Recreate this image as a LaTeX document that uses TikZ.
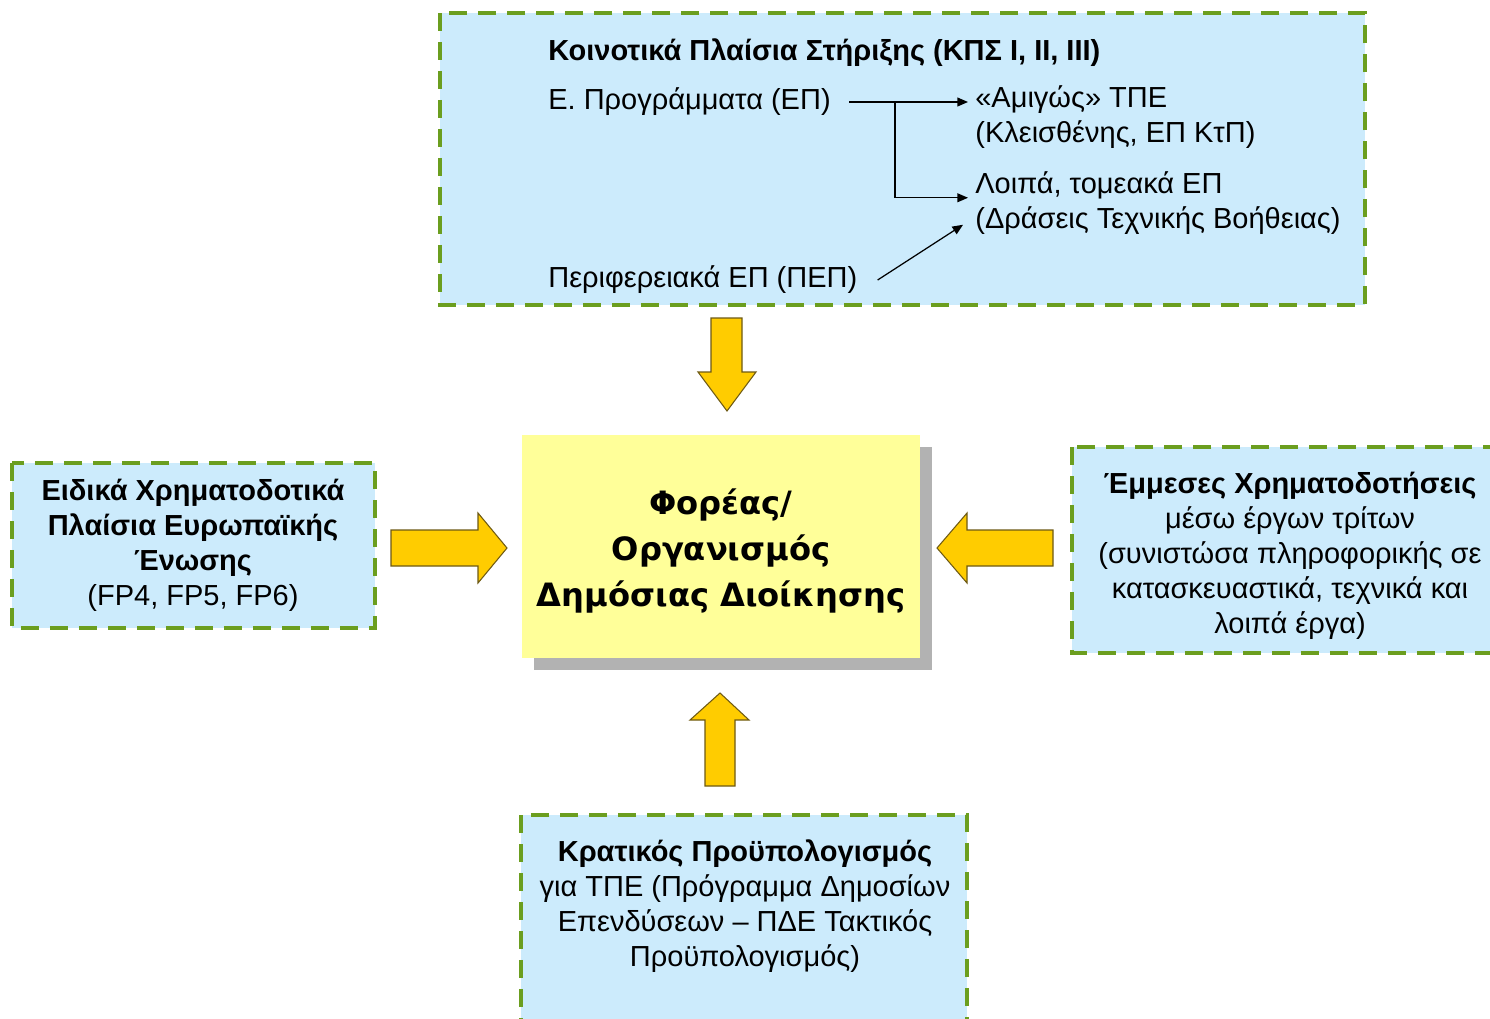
\documentclass[tikz,border=0pt]{standalone}
\usepackage{fontspec}
\setmainfont{Liberation Sans}
\newfontfamily\centerfont{DejaVu Sans}
\usetikzlibrary{arrows.meta}

\definecolor{panelblue}{RGB}{204,235,252}
\definecolor{dashgreen}{RGB}{107,158,31}
\definecolor{centeryellow}{RGB}{255,255,153}
\definecolor{shadowgray}{RGB}{178,178,178}
\definecolor{arrowyellow}{RGB}{255,204,0}
\definecolor{arrowedge}{RGB}{110,90,20}

\begin{document}
\begin{tikzpicture}[
        x=0.02cm, y=-0.02cm,
        panel/.style={
            fill=panelblue,
            draw=dashgreen,
            line width=2.2pt,
            dash pattern=on 0.36cm off 0.22cm
        },
        txt/.style={
            inner sep=0pt,
            font=\fontsize{16.5}{19.9}\selectfont
        },
        boxtxt/.style={
            txt,
            align=center
        },
        centertxt/.style={
            inner sep=0pt,
            align=center,
            font=\centerfont\bfseries\fontsize{18.3}{26}\selectfont
        },
        thinarrow/.style={
            -{Triangle[length=6pt,width=5pt]},
            line width=0.7pt
        },
        fatarrow/.style={
            fill=arrowyellow,
            draw=arrowedge,
            line width=0.6pt,
            line join=miter
        }
    ]

    \useasboundingbox (0,0) rectangle (1490,1018);
    \clip (0,0) rectangle (1490,1018);
    \fill[white] (0,0) rectangle (1490,1018);

    % ---------------------------------------------------------
    % Top panel: KPS
    % ---------------------------------------------------------
    \draw[panel] (440,13) rectangle (1365,305);

    \node[txt, anchor=west] (kps) at (548,53)
        {\bfseries Κοινοτικά Πλαίσια Στήριξης (ΚΠΣ I, II, III)};
    \node[txt, anchor=west] (ep) at (548,102) {Ε. Προγράμματα (ΕΠ)};
    \node[txt, anchor=west] (pep) at (548,280) {Περιφερειακά ΕΠ (ΠΕΠ)};
    \node[txt, anchor=north west, align=left] (amig) at (975,85)
        {«Αμιγώς» ΤΠΕ\\(Κλεισθένης, ΕΠ ΚτΠ)};
    \node[txt, anchor=north west, align=left] (loipa) at (975,171)
        {Λοιπά, τομεακά ΕΠ\\(Δράσεις Τεχνικής Βοήθειας)};

    \coordinate (split) at (895,102);

    \draw[thinarrow] ([xshift=0.36cm]ep.east) -- ([xshift=-0.14cm]ep.east -| amig.west);
    \draw[thinarrow] (split) |- ([xshift=-0.14cm, yshift=0.1cm]loipa.west);
    \draw[thinarrow] ([xshift=0.4cm]pep.east) -- ([xshift=-0.24cm, yshift=-0.44cm]loipa.west);

    % ---------------------------------------------------------
    % Centre box
    % ---------------------------------------------------------
    \fill[shadowgray] (534,447) rectangle (932,670);
    \fill[centeryellow] (522,435) rectangle (920,658);
    \node[centertxt] (foreas) at (721,551)
        {Φορέας/\\Οργανισμός\\Δημόσιας Διοίκησης};

    % ---------------------------------------------------------
    % Side and bottom panels
    % ---------------------------------------------------------
    \draw[panel] (12,463) rectangle (375,628);
    \node[boxtxt] (efp) at (193,545)
        {\bfseries Ειδικά Χρηματοδοτικά\\\bfseries Πλαίσια Ευρωπαϊκής\\\bfseries Ένωσης\\(FP4, FP5, FP6)};

    \draw[panel] (1072,447) rectangle (1530,653);
    \node[boxtxt] (emmeses) at (1290,556)
        {\bfseries Έμμεσες Χρηματοδοτήσεις\\μέσω έργων τρίτων\\(συνιστώσα πληροφορικής σε\\κατασκευαστικά, τεχνικά και\\λοιπά έργα)};

    \draw[panel] (521,815) rectangle (967,1050);
    \node[boxtxt] (kratikos) at (745,906)
        {\bfseries Κρατικός Προϋπολογισμός\\για ΤΠΕ (Πρόγραμμα Δημοσίων\\Επενδύσεων -- ΠΔΕ Τακτικός\\Προϋπολογισμός)};

    % ---------------------------------------------------------
    % Block arrows into the centre box
    % ---------------------------------------------------------
    % from top
    \draw[fatarrow] (711,318) -- (742,318) -- (742,372) -- (756,372)
        -- (727,411) -- (698,372) -- (711,372) -- cycle;
    % from left
    \draw[fatarrow] (391,530) -- (478,530) -- (478,513) -- (507,548)
        -- (478,583) -- (478,566) -- (391,566) -- cycle;
    % from right
    \draw[fatarrow] (1053,530) -- (967,530) -- (967,513) -- (937,548)
        -- (967,583) -- (967,566) -- (1053,566) -- cycle;
    % from bottom
    \draw[fatarrow] (705,786) -- (705,720) -- (690,720) -- (720,693)
        -- (749,720) -- (735,720) -- (735,786) -- cycle;

\end{tikzpicture}
\end{document}
